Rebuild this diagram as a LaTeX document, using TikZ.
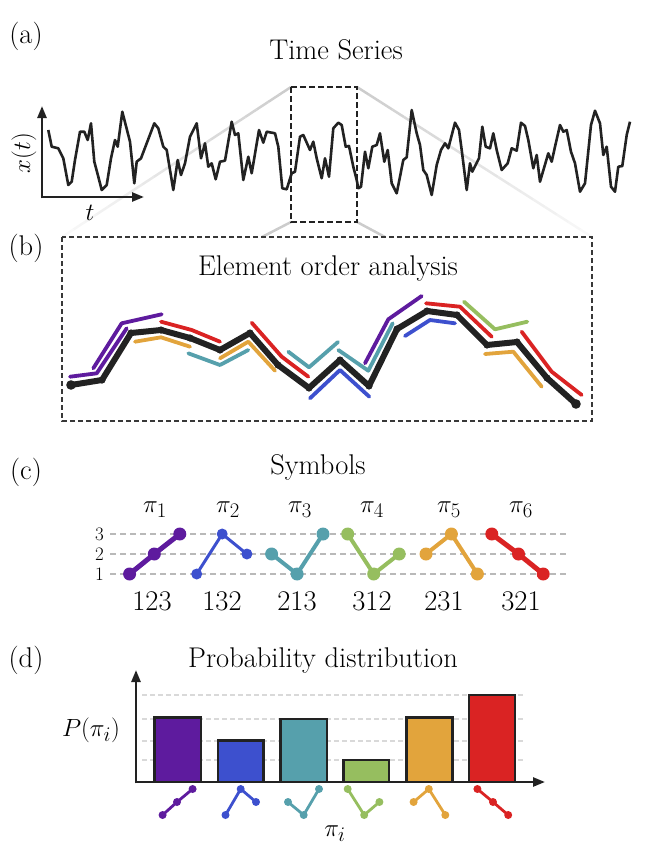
\documentclass[tikz,border=0pt]{standalone}
\usetikzlibrary{arrows.meta,calc}
\definecolor{cpur}{RGB}{94,27,158}
\definecolor{cblu}{RGB}{61,80,206}
\definecolor{ctea}{RGB}{86,160,172}
\definecolor{cgre}{RGB}{150,190,95}
\definecolor{cora}{RGB}{226,164,60}
\definecolor{cred}{RGB}{218,35,35}
\definecolor{cblk}{RGB}{34,34,34}
\newcommand{\fadeline}[2]{%
  \foreach \k in {0,...,19}{%
    \pgfmathsetmacro\ta{\k/20}\pgfmathsetmacro\tb{(\k+1)/20}%
    \pgfmathtruncatemacro\cv{40-1.8*\k}%
    \draw[line width=2.5pt, draw=gray!\cv] ($#1!\ta!#2$) -- ($#1!\tb!#2$);}}
% ordinal pattern: x1 x2 x3, y1 y2 y3, colour, line width, dot radius
\newcommand{\ordpat}[9]{%
  \draw[#7, line width=#8, line join=round] (#1,#4) -- (#2,#5) -- (#3,#6);
  \fill[#7] (#1,#4) circle (#9) (#2,#5) circle (#9) (#3,#6) circle (#9);}
\tikzset{
  lbl/.style={font=\fontsize{28.5}{32}\selectfont, inner sep=0pt},
  ticklbl/.style={font=\fontsize{19}{21}\selectfont, inner sep=0pt},
  ts/.style={cblk, line width=2.6pt, line join=round},
  axisarrow/.style={cblk, line width=2.5pt, -{Stealth[length=12pt,width=9pt,inset=0pt]}},
  seg/.style={line width=3.8pt, line cap=round, line join=round},
  griddash/.style={gray!55, line width=1.5pt, dash pattern=on 6pt off 4pt},
  griddashd/.style={gray!30, line width=1.2pt, dash pattern=on 5pt off 3pt},
  bar/.style={draw=cblk, line width=2.5pt},
}
\begin{document}
\begin{tikzpicture}[x=1pt,y=-1pt]
\useasboundingbox (0,0) rectangle (646,855);

% ---------------- (a)
\node[lbl] (la) at (26,36) {(a)};
\node[lbl] (tts) at (336,50) {Time Series};
\fadeline{(291,87)}{(62,237)}
\fadeline{(357,87)}{(592,237)}
\draw[line width=2.5pt, gray!40] (291,222) -- (262,237);
\draw[line width=2.5pt, gray!40] (357,222) -- (385,237);
\draw[ts] plot coordinates {(48.3,130) (51.7,146.7) (58.3,148.3) (63.3,158.3) (68.3,185) (71.7,181.7) (75,160) (80,131.7) (84.3,131.7) (87.7,140) (91,123.3) (94.3,161.7) (98.3,176.7) (101.7,190) (106.7,185) (111,158.3) (115,140) (117.7,146.7) (122.3,111.7) (130,141.7) (134.3,183.3) (136.7,161.7) (141,158.3) (146.7,143.3) (154.3,123.3) (158.3,128.3) (163.3,146.7) (166.7,150) (173.3,190) (177.7,160) (181,175) (185,163.3) (190,136.7) (196.7,123.3) (201,158.3) (205,143.3) (208.3,166.7) (211.7,163.3) (215.7,179.3) (220,161.7) (225,160.7) (231.7,121.7) (235,135) (238.3,133.3) (243.3,180) (248.3,156.7) (251.7,173.3) (259,130) (263.3,142.7) (266.7,131.7) (275,133.3) (278.3,146.7) (282.3,188.3) (286.7,189.3) (291.7,173.3) (295,171.7) (300,136.7) (303.3,135) (310,150) (313.3,141.7) (316.7,158.3) (321.7,178.3) (325,158.3) (329,176.7) (333.3,128.3) (338.3,122.7) (341.7,125) (345.7,146.7) (349,146) (353.3,166.7) (356.7,180) (358.3,188.3) (361,186.7) (365,151.7) (368.3,168.3) (372.3,146.7) (376.7,145) (380,133.3) (384.3,161.7) (387.7,150) (391.7,183.3) (396.7,193.3) (403.3,160) (406.7,157.3) (411.7,110) (416.7,133.3) (420,145) (423.3,170) (426.7,175) (431.7,195) (436.7,165) (441,150) (445,143.3) (448.3,148.3) (455,122.7) (459,130) (461.7,150) (466.7,190) (470,163.3) (472.3,171.7) (479,158.3) (482.3,126.7) (485.7,146.7) (490,148.3) (493.3,133.3) (496.7,150) (501.7,170) (507.7,163.3) (511.7,148.3) (516.7,150.7) (521,122.7) (525,126) (528.3,140) (533.3,168.3) (536.7,155) (540,181.7) (548.3,153.3) (551.7,161.7) (555,146.7) (560,125) (563.3,131.7) (566.7,130) (571,151.7) (575,163.3) (580,191.7) (585,183.3) (591,125) (595,110.7) (600,123.3) (603.3,155) (606.7,146.7) (611,186.7) (615,191.7) (618.3,166.7) (622.3,166) (626.7,135) (630,121.7)};
\draw[cblk, line width=2.5pt, dash pattern=on 6pt off 3pt] (291,87) rectangle (357,222);
\coordinate (orig) at (42,197);
\coordinate (yend) at (42,106);
\coordinate (xend) at (144,197);
\draw[axisarrow] ([yshift=-1.25pt]orig) -- (yend);
\draw[axisarrow] ([xshift=-1.25pt]orig) -- (xend);
\node[lbl, rotate=90] (lx) at (24,153) {$x(t)$};
\node[lbl] (lt) at (90,213) {$t$};

% ---------------- (b)
\node[lbl] (lb) at (26,248) {(b)};
\draw[cblk!90, line width=1.3pt, dash pattern=on 5pt off 3pt] (62,237) rectangle (592,421);
\node[lbl] (teo) at (328,268) {Element order analysis};
\draw[seg, cpur] (70,376.7) -- (96.7,373.3) -- (126.7,328.3);
\draw[seg, cpur] (93.3,368.3) -- (121.7,323.3) -- (161.7,314.3);
\draw[seg, cora] (135,341.7) -- (161,337.3) -- (190,346.7);
\draw[seg, cred] (161,321.7) -- (191.7,330) -- (220,341.7);
\draw[seg, ctea] (188.3,353.3) -- (220,365) -- (248.3,350);
\draw[seg, cora] (220,358.3) -- (248.3,341.7) -- (275,370.7);
\draw[seg, cred] (251.7,322.7) -- (281.7,356.7) -- (308.3,376.7);
\draw[seg, ctea] (288.3,351.7) -- (309,367.3) -- (338,342);
\draw[seg, cblu] (310,398.3) -- (340,370) -- (369.3,396.7);
\draw[seg, ctea] (338.3,350) -- (368.3,370.7) -- (392.7,323.3);
\draw[seg, cpur] (365,363.3) -- (388.3,319.3) -- (421.7,296);
\draw[seg, cblu] (405,336) -- (430,320) -- (455,323.3);
\draw[seg, cred] (426,303.3) -- (460,306.7) -- (491.7,336.7);
\draw[seg, cgre] (464,301.7) -- (495,329.3) -- (527.3,321.7);
\draw[seg, cora] (485,354) -- (513.3,351.7) -- (541.7,386.7);
\draw[seg, cred] (521.7,331.7) -- (551.7,371.7) -- (581.7,395);
\draw[cblk, line width=6pt, line join=round, line cap=round] (71,385) -- (102,380) -- (131,333) -- (161,330) -- (190,338) -- (220,350) -- (250,333) -- (278,365) -- (309,388) -- (340,360) -- (369,386) -- (397,329) -- (427,311) -- (457,315) -- (487,345) -- (517,342) -- (547,378) -- (576,404);
\foreach \p in {(102,380),(131,333),(161,330),(190,338),(220,350),(250,333),(278,365),(309,388),(340,360),(369,386),(397,329),(427,311),(457,315),(487,345),(517,342),(547,378)}
  \fill[cblk] \p circle (3.6pt);
\fill[cblk] (71,385) circle (4.8pt) (576,404) circle (4.8pt);

% ---------------- (c)
\node[lbl] (lc) at (26,472) {(c)};
\node[lbl] (tsym) at (318,467) {Symbols};
\foreach \yy/\lv in {534/3,554/2,574/1}{
  \draw[griddash] (110,\yy) -- (568,\yy);
  \node[ticklbl, anchor=east] at (104,\yy) {\lv};
}
\ordpat{129.6}{154.3}{179.8}{574}{554}{534}{cpur}{5pt}{6.5pt}
\ordpat{196.7}{222.2}{246.9}{574}{534}{554}{cblu}{3pt}{5.5pt}
\ordpat{271.6}{297.1}{323}{554}{574}{534}{ctea}{4pt}{6.5pt}
\ordpat{347.7}{373.7}{399.2}{534}{574}{554}{cgre}{4pt}{6.5pt}
\ordpat{426}{451.4}{477.4}{554}{534}{574}{cora}{4pt}{6.5pt}
\ordpat{491.8}{518.5}{543.2}{534}{554}{574}{cred}{5pt}{6.5pt}
\node[lbl] (pi1) at (155,510) {$\pi_1$};
\node[lbl] (pi2) at (228,510) {$\pi_2$};
\node[lbl] (pi3) at (300,510) {$\pi_3$};
\node[lbl] (pi4) at (372,510) {$\pi_4$};
\node[lbl] (pi5) at (449,510) {$\pi_5$};
\node[lbl] (pi6) at (521,510) {$\pi_6$};
\node[lbl] (n1) at (152,601) {123};
\node[lbl] (n2) at (222,601) {132};
\node[lbl] (n3) at (297,601) {213};
\node[lbl] (n4) at (372,601) {312};
\node[lbl] (n5) at (444,601) {231};
\node[lbl] (n6) at (521,601) {321};

% ---------------- (d)
\node[lbl] (ld) at (26,660) {(d)};
\node[lbl] (tpd) at (323,660) {Probability distribution};
\foreach \yy in {695,719,741,760}
  \draw[griddashd] (142,\yy) -- (525,\yy);
\draw[bar, fill=cpur] (154.3,782) rectangle (200.8,717.3);
\draw[bar, fill=cblu] (218,782) rectangle (263.4,740.7);
\draw[bar, fill=ctea] (280.7,782) rectangle (327.2,719);
\draw[bar, fill=cgre] (343.6,782) rectangle (388.9,760);
\draw[bar, fill=cora] (406.6,782) rectangle (452.7,717.3);
\draw[bar, fill=cred] (469,782) rectangle (515.2,695);
\coordinate (dorig) at (136,782);
\coordinate (dyend) at (136,670);
\coordinate (dxend) at (545,782);
\draw[axisarrow] ([yshift=-1.25pt]dorig) -- (dyend);
\draw[axisarrow] ([xshift=-1.25pt]dorig) -- (dxend);
\node[lbl] (pp) at (91,730) {$P(\pi_i)$};
\node[lbl] (pix) at (335,834) {$\pi_i$};
\ordpat{162.6}{177}{192.6}{815}{802}{789}{cpur}{2.8pt}{4pt}
\ordpat{225.5}{240.7}{256}{815}{789}{802}{cblu}{2.8pt}{4pt}
\ordpat{288}{303.7}{319}{802}{815}{789}{ctea}{2.8pt}{4pt}
\ordpat{347.7}{364.2}{379.4}{789}{815}{802}{cgre}{2.8pt}{4pt}
\ordpat{413.6}{428.8}{445.3}{802}{789}{815}{cora}{2.8pt}{4pt}
\ordpat{477.4}{493}{508.2}{789}{802}{815}{cred}{2.8pt}{4pt}
\end{tikzpicture}
\end{document}
